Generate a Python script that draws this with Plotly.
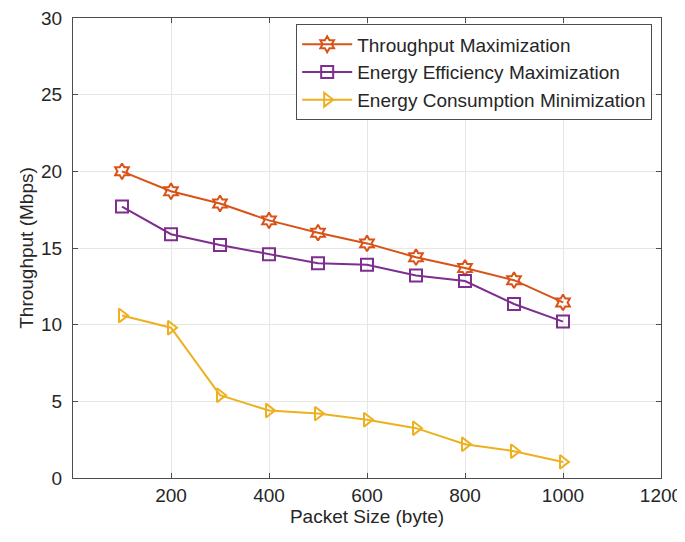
import plotly.graph_objects as go

packet_size = [100, 200, 300, 400, 500, 600, 700, 800, 900, 1000]
throughput_max = [20.0, 18.7, 17.9, 16.8, 16.0, 15.3, 14.4, 13.7, 12.9, 11.45]
energy_eff_max = [17.7, 15.9, 15.2, 14.6, 14.0, 13.9, 13.2, 12.85, 11.35, 10.2]
energy_cons_min = [10.6, 9.8, 5.4, 4.4, 4.2, 3.8, 3.25, 2.2, 1.75, 1.05]

x_ticks = [200, 400, 600, 800, 1000, 1200]
y_ticks = [0, 5, 10, 15, 20, 25, 30]

series = [
    ("Throughput Maximization", throughput_max, "#D95319", "hexagram-open"),
    ("Energy Efficiency Maximization", energy_eff_max, "#7E2F8E", "square-open"),
    ("Energy Consumption Minimization", energy_cons_min, "#EDB120", "triangle-right-open"),
]

FONT = "Liberation Sans, Arial"
FS = 19

fig = go.Figure()
for name, vals, color, sym in series:
    fig.add_trace(go.Scatter(
        x=packet_size, y=vals, name=name, mode="lines+markers",
        line=dict(color=color, width=2),
        marker=dict(symbol=sym, size=12, color=color, line=dict(width=2, color=color)),
    ))

axis_common = dict(
    showline=True, linecolor="#4D4D4D", linewidth=1, mirror="ticks",
    ticks="inside", ticklen=5, tickcolor="#4D4D4D",
    showgrid=True, gridcolor="#E6E6E6", gridwidth=1, zeroline=False,
    tickfont=dict(family=FONT, size=FS, color="#262626"),
    automargin=False, ticklabeloverflow="allow",
)

fig.update_layout(
    width=677, height=526,
    margin=dict(l=65, r=24, t=10, b=56),
    paper_bgcolor="white", plot_bgcolor="white",
    font=dict(family=FONT, size=FS, color="#262626"),
    xaxis=dict(range=[0, 1200], tickvals=x_ticks,
               title=dict(text="Packet Size (byte)", font=dict(size=FS), standoff=4),
               **axis_common),
    yaxis=dict(range=[0, 30], tickvals=y_ticks, ticklabelstandoff=6,
               title=dict(text="Throughput (Mbps)", font=dict(size=FS), standoff=2),
               **axis_common),
    legend=dict(x=0.985, y=0.986, xanchor="right", yanchor="top",
                bgcolor="white", bordercolor="#4D4D4D", borderwidth=1,
                font=dict(size=FS, color="#262626"), tracegroupgap=0,
                itemwidth=50),
    showlegend=True,
)

fig.write_html("out.html")
